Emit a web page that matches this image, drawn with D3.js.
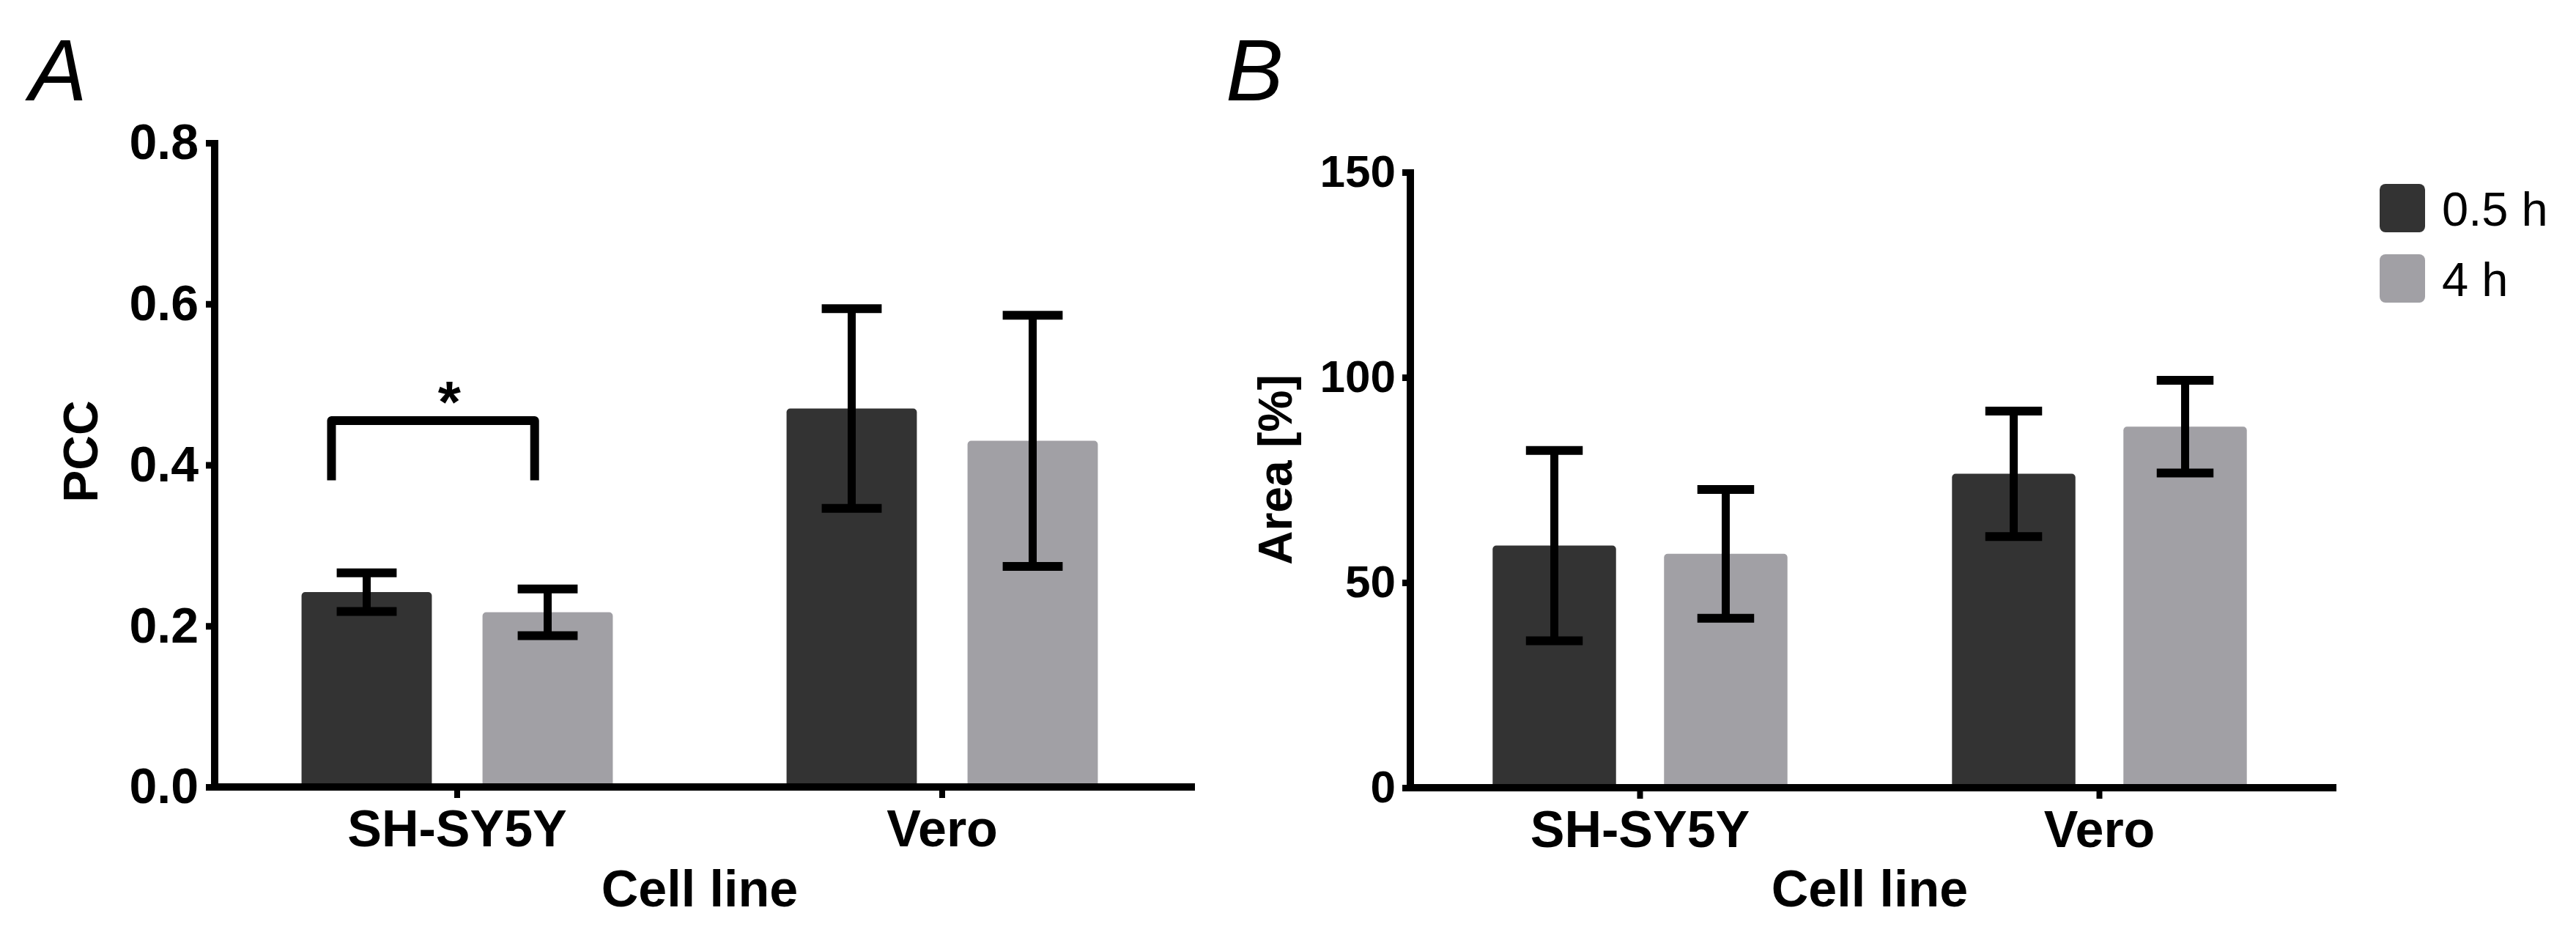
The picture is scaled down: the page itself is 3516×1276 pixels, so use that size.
<!DOCTYPE html>
<html>
<head>
<meta charset="utf-8">
<script src="https://cdn.jsdelivr.net/npm/d3@7"></script>
<style>
  html, body { margin: 0; padding: 0; background: #ffffff; }
  svg { display: block; }
  text { font-family: "Liberation Sans", Arial, Helvetica, sans-serif; fill: #000; }
</style>
</head>
<body>
<svg id="chart" width="3516" height="1276"></svg>
<script>
// ---------------- data ----------------
const categories = ["SH-SY5Y", "Vero"];
const seriesNames = ["0.5 h", "4 h"];
const seriesColors = ["#333333", "#a1a0a5"];

// Panel A: PCC (mean, error)
const pccMean05 = [0.242, 0.470];
const pccErr05  = [0.024, 0.124];
const pccMean4  = [0.217, 0.430];
const pccErr4   = [0.029, 0.156];
const pccTicks  = [0.0, 0.2, 0.4, 0.6, 0.8];

// Panel B: Area [%] (mean, error)
const areaMean05 = [59.0, 76.5];
const areaErr05  = [23.2, 15.3];
const areaMean4  = [57.0, 88.0];
const areaErr4   = [15.7, 11.3];
const areaTicks  = [0, 50, 100, 150];

// Significance annotation in panel A
const sigCategory = "SH-SY5Y";
const sigTop = 0.455;
const sigDrop = 0.381;
const sigLabel = "*";

// ---------------- layout ----------------
const svg = d3.select("#chart");

function drawPanel(cfg) {
  const g = svg.append("g");
  const x0 = d3.scaleBand().domain(categories).range(cfg.xRange).paddingInner(0).paddingOuter(0);
  const x1 = d3.scaleBand().domain(seriesNames).range([0, x0.bandwidth()]).paddingInner(0.28).paddingOuter(0.48);
  const y = d3.scaleLinear().domain([0, cfg.yMax]).range(cfg.yRange);
  const color = d3.scaleOrdinal().domain(seriesNames).range(seriesColors);

  const rows = [];
  categories.forEach((c, i) => {
    rows.push({cat: c, s: seriesNames[0], v: cfg.mean05[i], e: cfg.err05[i]});
    rows.push({cat: c, s: seriesNames[1], v: cfg.mean4[i], e: cfg.err4[i]});
  });

  // bars
  g.selectAll("rect.bar").data(rows).join("rect")
    .attr("class", "bar")
    .attr("x", d => x0(d.cat) + x1(d.s))
    .attr("y", d => y(d.v))
    .attr("width", x1.bandwidth())
    .attr("height", d => y(0) - y(d.v))
    .attr("rx", 5)
    .attr("fill", d => color(d.s));

  // error bars
  const capW = x1.bandwidth() * 0.46;
  const eb = g.selectAll("g.err").data(rows).join("g").attr("class", "err");
  eb.append("line")
    .attr("x1", d => x0(d.cat) + x1(d.s) + x1.bandwidth() / 2)
    .attr("x2", d => x0(d.cat) + x1(d.s) + x1.bandwidth() / 2)
    .attr("y1", d => y(d.v + d.e))
    .attr("y2", d => y(d.v - d.e))
    .attr("stroke", "#000").attr("stroke-width", 11);
  [1, -1].forEach(sign => {
    eb.append("line")
      .attr("x1", d => x0(d.cat) + x1(d.s) + x1.bandwidth() / 2 - capW / 2)
      .attr("x2", d => x0(d.cat) + x1(d.s) + x1.bandwidth() / 2 + capW / 2)
      .attr("y1", d => y(d.v + sign * d.e))
      .attr("y2", d => y(d.v + sign * d.e))
      .attr("stroke", "#000").attr("stroke-width", 12);
  });

  // y axis
  const yAxisX = cfg.xRange[0];
  const yAxis = d3.axisLeft(y).tickValues(cfg.ticks).tickFormat(cfg.fmt)
    .tickSize(cfg.tickLen).tickSizeOuter(0).tickPadding(cfg.tickPad);
  const gy = g.append("g").attr("transform", `translate(${yAxisX},0)`).call(yAxis);
  gy.select(".domain").remove();
  gy.selectAll(".tick line").attr("stroke", "#000").attr("stroke-width", 9);
  gy.selectAll(".tick text")
    .attr("font-size", cfg.tickFont).attr("font-weight", "bold").attr("fill", "#000");
  g.append("line")
    .attr("x1", yAxisX).attr("x2", yAxisX)
    .attr("y1", y(cfg.yMax) - 4).attr("y2", y(0) + 5)
    .attr("stroke", "#000").attr("stroke-width", 10);

  // x axis
  const xAxis = d3.axisBottom(x0).tickSize(15).tickSizeOuter(0).tickPadding(16);
  const gx = g.append("g").attr("transform", `translate(0,${y(0)})`).call(xAxis);
  gx.select(".domain").remove();
  gx.selectAll(".tick line").attr("stroke", "#000").attr("stroke-width", 8);
  gx.selectAll(".tick text")
    .attr("font-size", 70).attr("font-weight", "bold").attr("fill", "#000");
  g.append("line")
    .attr("x1", yAxisX - 5).attr("x2", cfg.xRange[1] + cfg.xExtend)
    .attr("y1", y(0)).attr("y2", y(0))
    .attr("stroke", "#000").attr("stroke-width", 10);

  // axis titles
  g.append("text")
    .attr("x", (cfg.xRange[0] + cfg.xRange[1]) / 2)
    .attr("y", cfg.xTitleY)
    .attr("text-anchor", "middle")
    .attr("font-size", 70).attr("font-weight", "bold")
    .text("Cell line");
  g.append("text")
    .attr("transform", `translate(${cfg.yTitleX},${cfg.yTitleY}) rotate(-90)`)
    .attr("text-anchor", "middle")
    .attr("font-size", cfg.yTitleFont).attr("font-weight", "bold")
    .text(cfg.yTitle);

  // panel letter
  g.append("text")
    .attr("x", cfg.letterX).attr("y", 137)
    .attr("font-size", 118).attr("font-style", "italic")
    .text(cfg.letter);

  return {g, x0, x1, y};
}

const A = drawPanel({
  xRange: [293, 1617], xExtend: 14, yRange: [1074, 195], yMax: 0.8,
  mean05: pccMean05, err05: pccErr05, mean4: pccMean4, err4: pccErr4,
  ticks: pccTicks, fmt: d3.format(".1f"), tickLen: 12, tickPad: 10, tickFont: 68,
  xTitleY: 1237, yTitle: "PCC", yTitleX: 133, yTitleY: 616, yTitleFont: 66,
  letter: "A", letterX: 40
});

const B = drawPanel({
  xRange: [1925, 3179], xExtend: 10, yRange: [1075, 235], yMax: 150,
  mean05: areaMean05, err05: areaErr05, mean4: areaMean4, err4: areaErr4,
  ticks: areaTicks, fmt: d3.format("d"), tickLen: 11, tickPad: 9, tickFont: 62,
  xTitleY: 1237, yTitle: "Area [%]", yTitleX: 1763, yTitleY: 641, yTitleFont: 64,
  letter: "B", letterX: 1673
});

// significance bracket (panel A)
(function () {
  const {g, x0, x1, y} = A;
  const bw = x1.bandwidth();
  const xl = x0(sigCategory) + x1(seriesNames[0]) + 0.23 * bw;
  const xr = x0(sigCategory) + x1(seriesNames[1]) + 0.40 * bw;
  const path = d3.path();
  path.moveTo(xl, y(sigDrop));
  path.lineTo(xl, y(sigTop));
  path.lineTo(xr, y(sigTop));
  path.lineTo(xr, y(sigDrop));
  g.append("path").attr("d", path.toString())
    .attr("fill", "none").attr("stroke", "#000").attr("stroke-width", 12)
    .attr("stroke-linejoin", "round");
  const cx = x0(sigCategory) + x0.bandwidth() / 2 - 0.06 * bw;
  g.append("text")
    .attr("x", cx).attr("y", y(sigTop) + 2)
    .attr("text-anchor", "middle")
    .attr("font-size", 80).attr("font-weight", "bold")
    .text(sigLabel);
})();

// legend
const legend = svg.append("g").attr("transform", "translate(3248,251)");
seriesNames.forEach((s, i) => {
  const row = legend.append("g").attr("transform", `translate(0,${i * 96})`);
  row.append("rect").attr("width", 62).attr("height", 66).attr("rx", 8)
    .attr("fill", seriesColors[i]);
  row.append("text").attr("x", 85).attr("y", 57)
    .attr("font-size", 65).text(s);
});
</script>
</body>
</html>
